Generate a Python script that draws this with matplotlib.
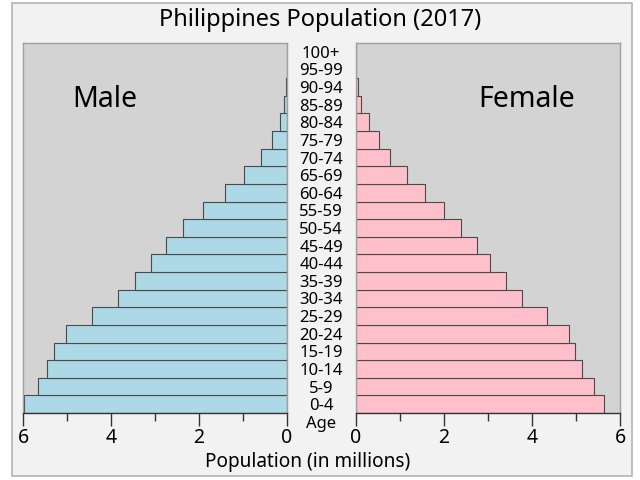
import numpy as np
import matplotlib
matplotlib.use('Agg')
import matplotlib.pyplot as plt
from matplotlib.patches import Rectangle
from matplotlib.transforms import blended_transform_factory

plt.rcParams['font.family'] = ['Noto Sans', 'DejaVu Sans']

# 年齢階級
ages = ['0-4', '5-9', '10-14', '15-19', '20-24', '25-29', '30-34', '35-39',
        '40-44', '45-49', '50-54', '55-59', '60-64', '65-69', '70-74',
        '75-79', '80-84', '85-89', '90-94', '95-99', '100+']
# 人口（百万人）
male = [5.98, 5.65, 5.45, 5.29, 5.02, 4.44, 3.83, 3.45, 3.08, 2.74, 2.36,
        1.90, 1.42, 0.97, 0.58, 0.34, 0.17, 0.06, 0.016, 0.003, 0.0005]
female = [5.64, 5.42, 5.14, 4.97, 4.85, 4.35, 3.78, 3.41, 3.05, 2.74, 2.39,
          1.99, 1.56, 1.15, 0.77, 0.52, 0.30, 0.12, 0.04, 0.007, 0.001]
ticks = [0, 2, 4, 6]

W, H = 640, 480
fig = plt.figure(figsize=(6.4, 4.8), dpi=100, facecolor='white')
# 外枠
fig.patches.append(Rectangle((12 / W, 1 - 476 / H), 620 / W, 473 / H,
                             transform=fig.transFigure, facecolor='#f2f2f2',
                             edgecolor='#b4b4b4', linewidth=1.2, zorder=-10))

bottom = 1 - 413 / H
height = 370 / H
axL = fig.add_axes([23 / W, bottom, 264 / W, height])
axR = fig.add_axes([356 / W, bottom, 264 / W, height])

y = np.arange(len(ages))
axL.barh(y, male, height=1.0, color='#add8e6', edgecolor='#4a4a4a', linewidth=0.8)
axR.barh(y, female, height=1.0, color='#ffc0cb', edgecolor='#4a4a4a', linewidth=0.8)

for ax in (axL, axR):
    ax.set_facecolor('#d3d3d3')
    ax.set_xlim(0, 6)
    ax.set_ylim(-0.5, len(ages) - 0.5)
    ax.set_yticks([])
    ax.set_xticks(ticks)
    ax.set_xticks([1, 3, 5], minor=True)
    ax.tick_params(axis='x', which='major', length=9, width=1, colors='#333333',
                   labelsize=14, labelcolor='black', pad=2)
    ax.tick_params(axis='x', which='minor', length=6, width=1, colors='#333333')
    for s in ax.spines.values():
        s.set_color('#a0a0a0')
        s.set_linewidth(1.0)
    ax.spines['bottom'].set_color('#333333')
axL.invert_xaxis()

axL.text(4.15, 0.848, 'Male', transform=axL.get_xaxis_transform(),
         fontsize=20.5, ha='center', va='center')
axR.text(3.88, 0.848, 'Female', transform=axR.get_xaxis_transform(),
         fontsize=20.5, ha='center', va='center')

# 年齢ラベル
tr = blended_transform_factory(fig.transFigure, axL.transData)
for i, a in enumerate(ages):
    fig.text(321 / W, y[i], a, transform=tr, ha='center',
             va='center_baseline', fontsize=12)
fig.text(321 / W, -1.0, 'Age', transform=tr, ha='center',
         va='center_baseline', fontsize=12)

fig.text(320 / W, 1 - 20 / H, 'Philippines Population (2017)', ha='center',
         va='center', fontsize=17)
fig.text(308 / W, 1 - 462 / H, 'Population (in millions)', ha='center',
         va='center', fontsize=13.7)

plt.savefig('out.png', dpi=100)
